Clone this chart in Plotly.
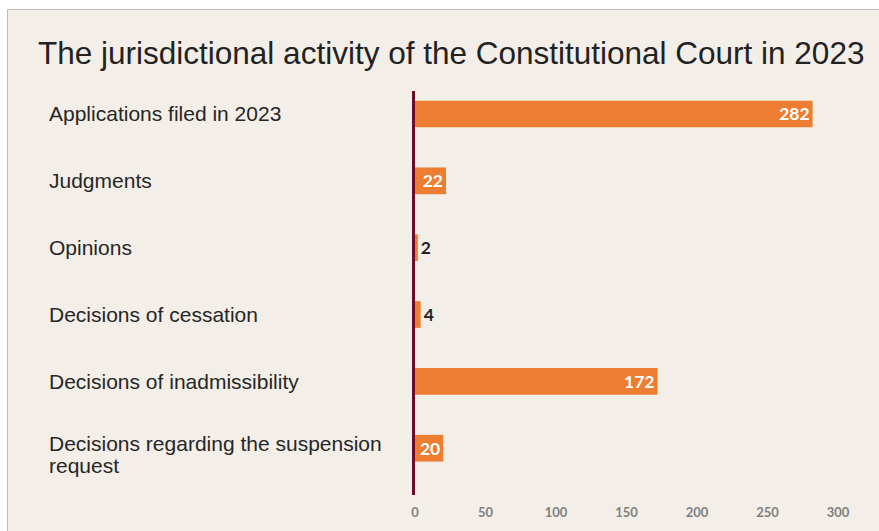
import plotly.graph_objects as go

categories = [
    "Applications filed in 2023",
    "Judgments",
    "Opinions",
    "Decisions of cessation",
    "Decisions of inadmissibility",
    "Decisions regarding the suspension<br>request",
]
values = [282, 22, 2, 4, 172, 20]
x_ticks = [0, 50, 100, 150, 200, 250, 300]
title_text = "The jurisdictional activity of the Constitutional Court in 2023"

W, H = 879, 531
L, R, T, B = 415, 41, 91, 36
pw, ph = W - L - R, H - T - B

def px_x(p):
    return (p - L) / pw

def px_y(p):
    return 1 - (p - T) / ph

BG = "#F3EFE8"
ORANGE = "#ED7D31"
MAROON = "#6E0A2C"

positions = ["inside" if v >= 10 else "outside" for v in values]

fig = go.Figure(
    go.Bar(
        x=values,
        y=list(range(len(categories))),
        orientation="h",
        width=0.4,
        marker=dict(color=ORANGE, line=dict(width=0)),
        text=[str(v) for v in values],
        textposition=positions,
        textangle=0,
        insidetextanchor="end",
        constraintext="none",
        cliponaxis=False,
        insidetextfont=dict(family="Lato", size=17.5, color="white", weight="bold"),
        outsidetextfont=dict(family="Lato", size=17.5, color="#222222", weight="bold"),
        hoverinfo="skip",
    )
)

annotations = []
for i, c in enumerate(categories):
    lines = c.split("<br>")
    n = len(lines)
    for k, line in enumerate(lines):
        if n == 1:
            shift = 0
        else:
            shift = 5 - 22 * k
        annotations.append(
            dict(
                text=line,
                xref="paper",
                yref="y",
                x=px_x(47),
                y=i,
                yshift=shift,
                xanchor="left",
                yanchor="middle",
                align="left",
                showarrow=False,
                font=dict(family="Liberation Sans", size=21, color="#262626"),
            )
        )
annotations.append(
    dict(
        text=title_text,
        xref="paper",
        yref="paper",
        x=px_x(36),
        y=px_y(53),
        xanchor="left",
        yanchor="middle",
        showarrow=False,
        font=dict(family="Liberation Sans", size=31.5, color="#222222"),
    )
)

shapes = [
    dict(
        type="rect",
        xref="paper",
        yref="paper",
        x0=px_x(7.5),
        x1=px_x(W + 20),
        y0=px_y(H + 20),
        y1=px_y(9.5),
        fillcolor=BG,
        line=dict(color="#BDBDBD", width=1),
        layer="below",
    )
]

fig.update_layout(
    width=W,
    height=H,
    margin=dict(l=L, r=R, t=T, b=B),
    paper_bgcolor="white",
    plot_bgcolor="rgba(0,0,0,0)",
    showlegend=False,
    annotations=annotations,
    shapes=shapes,
    xaxis=dict(
        range=[0, 300],
        tickvals=x_ticks,
        ticktext=[str(t) for t in x_ticks],
        showgrid=False,
        zeroline=False,
        showline=False,
        ticks="",
        ticklabelstandoff=8,
        tickfont=dict(family="Lato", size=13, color="#7F7F7F", weight="bold"),
        fixedrange=True,
    ),
    yaxis=dict(
        range=[5.70, -0.344],
        showticklabels=False,
        showgrid=False,
        zeroline=False,
        showline=True,
        linecolor=MAROON,
        linewidth=3,
        ticks="",
        fixedrange=True,
    ),
)

fig.write_html("out.html")
